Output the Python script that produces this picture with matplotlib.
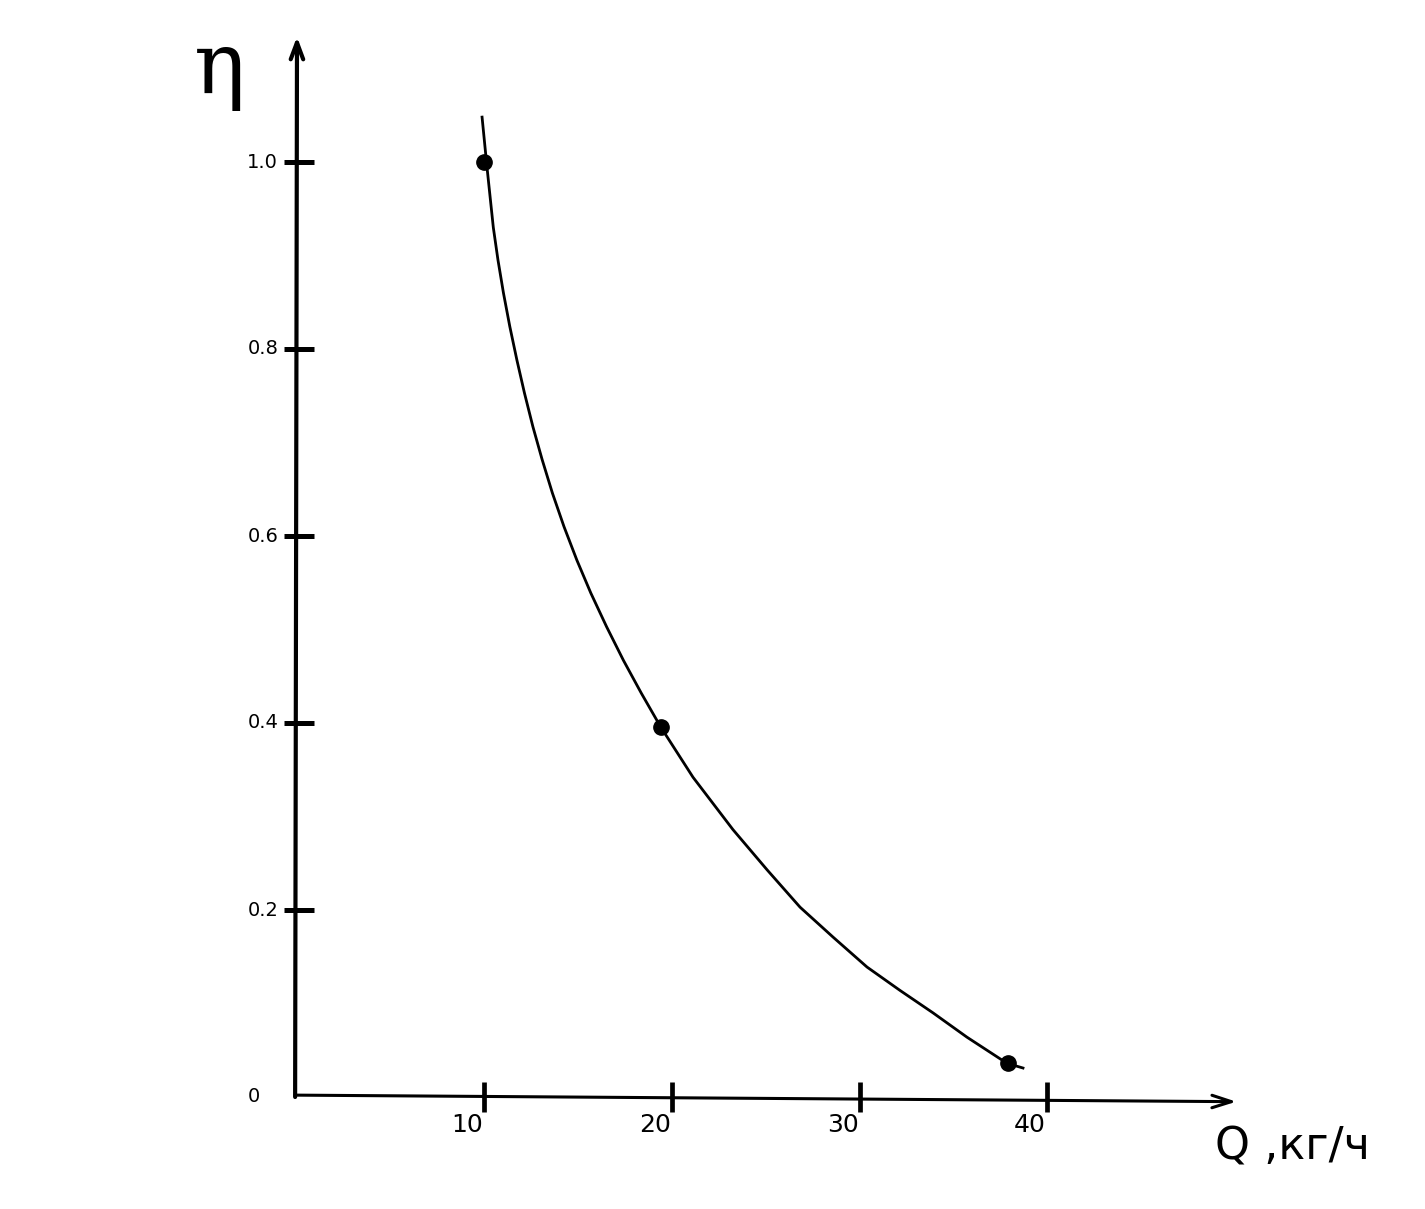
import matplotlib
import matplotlib.pyplot as plt
import numpy as np

matplotlib.use("Agg")

# hand-drawn curve
q_curve = [9.87, 10.13, 10.47, 10.72, 11.01, 11.35, 11.73, 12.13, 12.58, 13.07, 13.62,
           14.24, 14.93, 15.67, 16.51, 17.41, 18.36, 19.39, 21.12, 23.25, 25.07, 26.83,
           28.59, 30.4, 32.16, 33.92, 35.73, 37.87, 38.72]
eta_curve = [1.048, 0.995, 0.930, 0.895, 0.860, 0.824, 0.788, 0.753, 0.717, 0.682, 0.646,
             0.610, 0.574, 0.539, 0.503, 0.467, 0.432, 0.396, 0.342, 0.286, 0.243, 0.203,
             0.171, 0.139, 0.114, 0.090, 0.064, 0.036, 0.031]

# measured points
q_points = [10.0, 19.4, 37.9]
eta_points = [1.0, 0.396, 0.036]

x_ticks = [10, 20, 30, 40]
y_ticks = [0.2, 0.4, 0.6, 0.8, 1.0]
y_tick_labels = ["0.2", "0.4", "0.6", "0.8", "1.0"]

fig = plt.figure(figsize=(14.25, 12.09), dpi=100)
ax = fig.add_axes([0, 0, 1, 1])
ax.set_xlim(-297 / 18.75, (1425 - 297) / 18.75)
ax.set_ylim((1097 - 1209) / 935, 1097 / 935)
ax.axis("off")

# axes with arrows
ax.annotate("", xy=(0.0, 1.134), xytext=(-0.1, 0.0),
            arrowprops=dict(arrowstyle="->,head_length=1.2,head_width=0.45", lw=3, color="black",
                            shrinkA=0, shrinkB=0))
ax.annotate("", xy=(50.1, -0.005), xytext=(-0.1, 0.002),
            arrowprops=dict(arrowstyle="->,head_length=1.4,head_width=0.45", lw=2.2, color="black",
                            shrinkA=0, shrinkB=0))

# tick dashes
ax.plot([0.1] * len(y_ticks), y_ticks, linestyle="none", marker="_", ms=22, mew=3.6, color="black")
ax.plot(x_ticks, [0.0] * len(x_ticks), linestyle="none", marker="|", ms=22, mew=3.4, color="black")

for y, lab in zip(y_ticks, y_tick_labels):
    ax.text(-1.0, y, lab, ha="right", va="center", fontsize=14, color="black")
ax.text(-2.3, 0.0, "0", ha="center", va="center", fontsize=14, color="black")
for x in x_ticks:
    ax.text(x - 0.9, -0.03, str(x), ha="center", va="center", fontsize=18, color="black")

ax.plot(q_curve, eta_curve, color="black", lw=2, solid_joinstyle="round")
ax.plot(q_points, eta_points, linestyle="none", marker="o", ms=11, color="black")

ax.text(-4.1, 1.074, "η", ha="center", va="baseline", fontsize=62, family="DejaVu Serif", color="black")
ax.text(53.1, -0.053, "Q ,кг/ч", ha="center", va="center", fontsize=32, color="black")

fig.savefig("out.png", dpi=100)
